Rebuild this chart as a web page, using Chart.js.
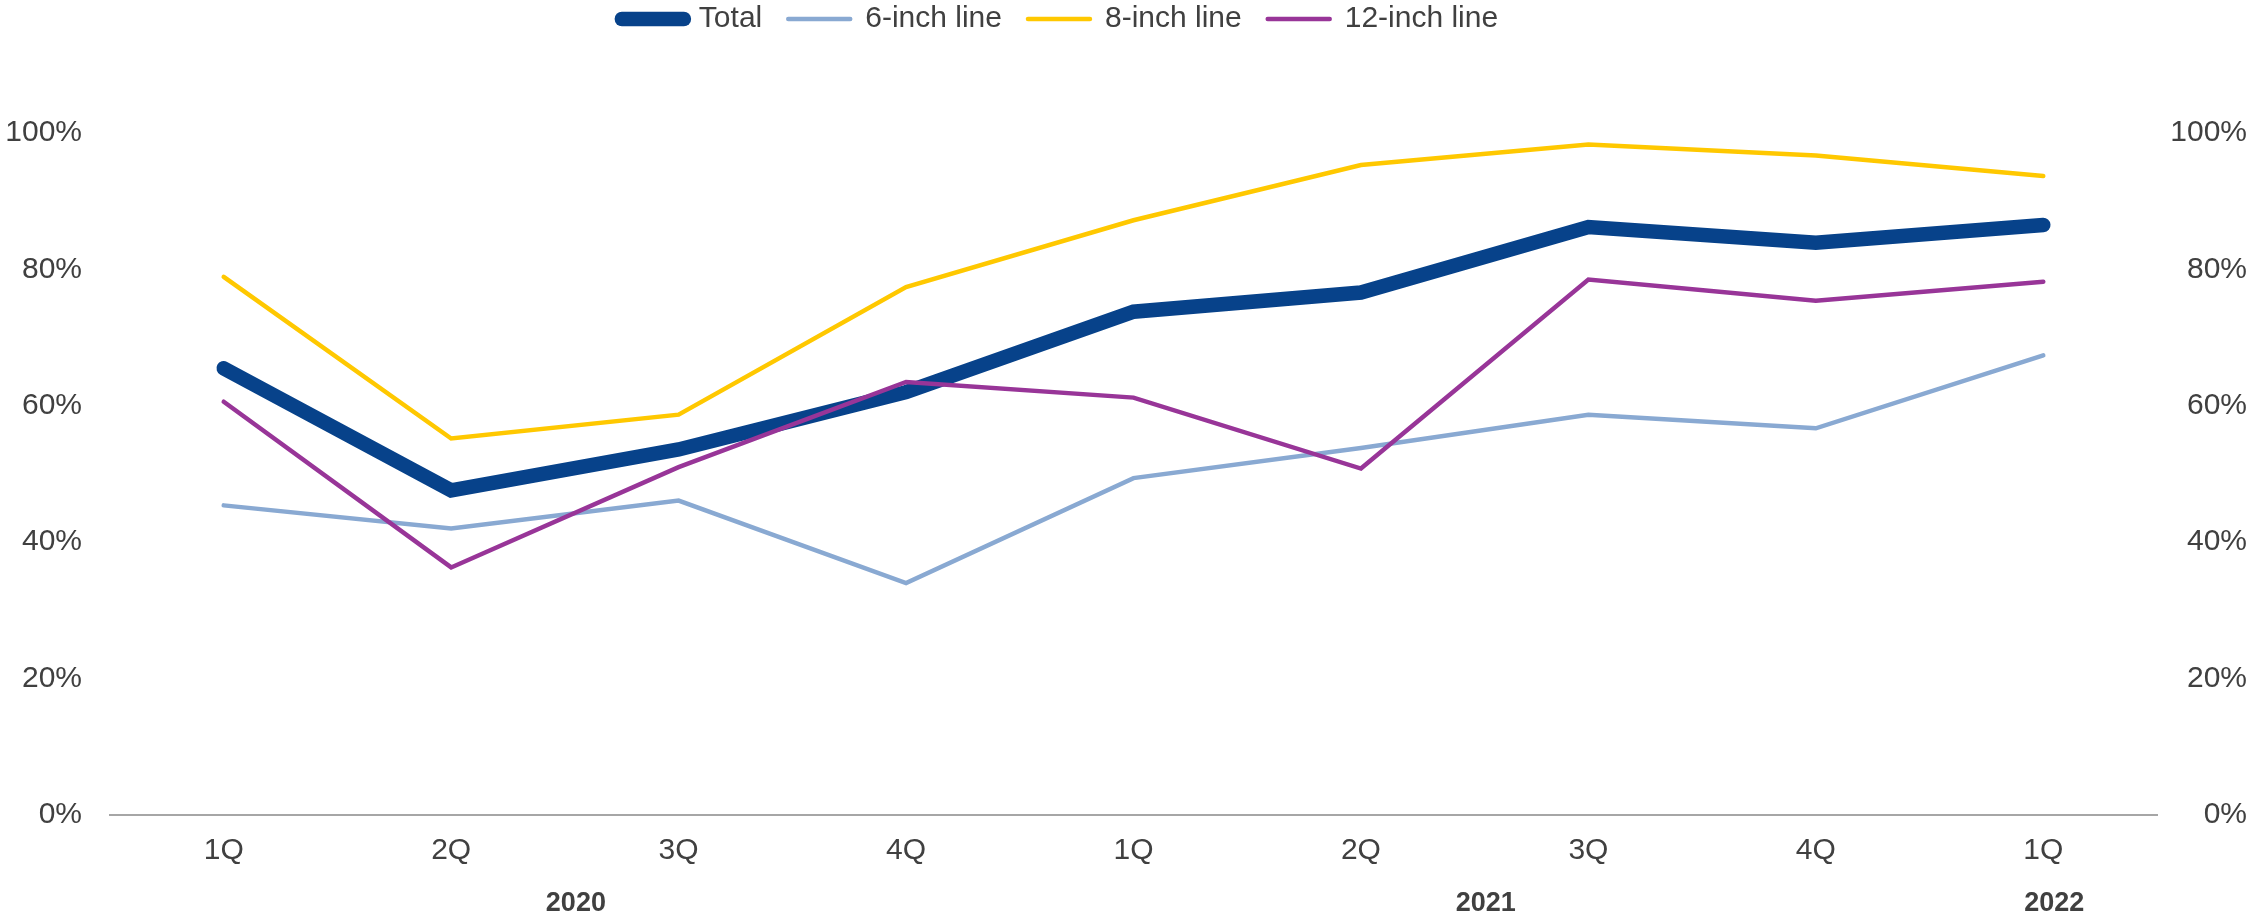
<!DOCTYPE html>
<html>
<head>
<meta charset="utf-8">
<script src="https://cdn.jsdelivr.net/npm/chart.js@4/dist/chart.umd.min.js"></script>
<style>
  html, body { margin: 0; padding: 0; background: #fff; }
  #wrap { width: 2247px; height: 918px; position: relative; }
</style>
</head>
<body>
<div id="wrap"><canvas id="chart"></canvas></div>
<script>
// quarters on the axis, years grouped underneath
const quarters = ["1Q", "2Q", "3Q", "4Q", "1Q", "2Q", "3Q", "4Q", "1Q"];
const years = ["2020", "2021", "2022"];
const quartersPerYear = [4, 4, 1];

// utilisation, %
const total = [65.5, 47.6, 53.6, 62.0, 73.8, 76.6, 86.2, 83.9, 86.5];
const sixInch = [45.4, 42.0, 46.1, 34.0, 49.4, 53.8, 58.7, 56.7, 67.4];
const eightInch = [78.9, 55.2, 58.7, 77.4, 87.2, 95.3, 98.3, 96.7, 93.7];
const twelveInch = [60.6, 36.3, 51.0, 63.5, 61.2, 50.8, 78.5, 75.4, 78.2];

const yTicks = [0, 20, 40, 60, 80, 100];

const FONT = "'Liberation Sans', Arial, sans-serif";
const TEXT = "#404040";

// centre of each year group, in category index units
const yearCenters = [];
let start = 0;
quartersPerYear.forEach((n) => {
  yearCenters.push(start + (n - 1) / 2);
  start += n;
});

const line = (label, data, color, width, order) => ({
  label,
  data,
  borderColor: color,
  backgroundColor: color,
  borderWidth: width,
  borderCapStyle: "round",
  borderJoinStyle: "miter",
  pointRadius: 0,
  tension: 0,
  order,
});

// push the plot down below the legend and nudge the legend left
const legendSpacer = {
  id: "legendSpacer",
  beforeInit(chart) {
    const origFit = chart.legend.fit;
    chart.legend.fit = function () {
      origFit.bind(chart.legend)();
      this.height = 155;
      this.lineWidths[0] += 127;
    };
  },
};

const yAxis = (position, width, crossAlign, padding) => ({
  position,
  min: 0,
  max: 100,
  afterBuildTicks: (scale) => {
    scale.ticks = yTicks.map((v) => ({ value: v }));
  },
  afterFit: (scale) => {
    scale.width = width;
  },
  grid: { display: false, drawTicks: false },
  border: { display: false },
  ticks: {
    crossAlign,
    padding,
    color: TEXT,
    font: { family: FONT, size: 30 },
    callback: (v) => v + "%",
  },
});

new Chart(document.getElementById("chart"), {
  type: "line",
  data: {
    labels: quarters,
    datasets: [
      line("Total", total, "#07428A", 14.5, 4),
      line("6-inch line", sixInch, "#89A9D2", 4.5, 3),
      line("8-inch line", eightInch, "#FFC800", 4.5, 2),
      line("12-inch line", twelveInch, "#983598", 4.5, 1),
    ],
  },
  options: {
    responsive: true,
    maintainAspectRatio: false,
    animation: false,
    layout: { padding: { top: -22, left: 0, right: 0, bottom: 0 } },
    scales: {
      x: {
        type: "category",
        offset: true,
        weight: 0,
        afterFit: (scale) => {
          scale.height = 60;
        },
        grid: { display: false, drawTicks: false },
        border: { display: true, color: "#A6A6A6", width: 2 },
        ticks: {
          padding: 18,
          maxRotation: 0,
          autoSkip: false,
          color: TEXT,
          font: { family: FONT, size: 30 },
        },
      },
      years: {
        type: "linear",
        position: "bottom",
        weight: 1,
        min: -0.5,
        max: quarters.length - 0.5,
        afterBuildTicks: (scale) => {
          scale.ticks = yearCenters.map((v) => ({ value: v }));
        },
        afterFit: (scale) => {
          scale.height = 43;
        },
        grid: { display: false, drawTicks: false },
        border: { display: false },
        ticks: {
          padding: 12,
          labelOffset: 11,
          maxRotation: 0,
          autoSkip: false,
          color: TEXT,
          font: { family: FONT, size: 27, weight: "bold" },
          callback: (v) => years[yearCenters.indexOf(v)],
        },
      },
      y: yAxis("left", 110, "near", 28),
      y2: yAxis("right", 90, "far", 4),
    },
    plugins: {
      legend: {
        position: "top",
        align: "center",
        labels: {
          usePointStyle: true,
          pointStyle: "line",
          pointStyleWidth: 62,
          padding: 26,
          color: TEXT,
          font: { family: FONT, size: 30 },
          sort: (a, b) => a.datasetIndex - b.datasetIndex,
          generateLabels: (chart) => {
            const items = Chart.defaults.plugins.legend.labels.generateLabels(chart);
            items.forEach((item) => {
              const ds = chart.data.datasets[item.datasetIndex];
              item.lineWidth = ds.borderWidth;
              item.lineCap = "round";
              item.strokeStyle = ds.borderColor;
              item.pointStyle = "line";
            });
            return items;
          },
        },
      },
      tooltip: { enabled: false },
    },
  },
  plugins: [legendSpacer],
});
</script>
</body>
</html>
